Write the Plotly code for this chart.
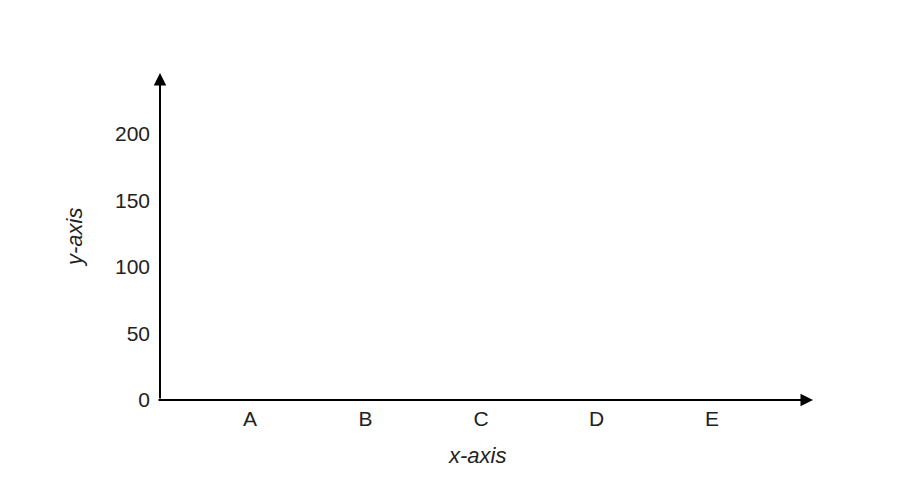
import plotly.graph_objects as go

categories = ["A", "B", "C", "D", "E"]
values = [None, None, None, None, None]
y_ticks = [0, 50, 100, 150, 200]

FONT = "Liberation Sans, Arial, sans-serif"
TXT = "#222222"

fig = go.Figure()
fig.add_trace(go.Scatter(x=categories, y=values, mode="markers", showlegend=False,
                         hoverinfo="skip"))

fig.update_layout(
    width=900, height=500,
    margin=dict(l=160, r=87, t=73, b=100),
    paper_bgcolor="white", plot_bgcolor="white",
    font=dict(family=FONT, size=21, color=TXT),
    xaxis=dict(type="category", categoryorder="array", categoryarray=categories,
               range=[-0.779, 4.874], showgrid=False, zeroline=False, showline=False,
               ticks="", ticklabelstandoff=4, tickfont=dict(size=21, color=TXT),
               fixedrange=True),
    yaxis=dict(range=[0, 245.9], tickvals=y_ticks, showgrid=False, zeroline=False,
               showline=False, ticks="", ticklabelstandoff=9,
               tickfont=dict(size=21, color=TXT), fixedrange=True),
)

arrow = dict(showarrow=True, arrowhead=2, arrowwidth=2, arrowsize=1.25,
             arrowcolor="black", text="", standoff=0, startstandoff=0)

# x-axis arrow
fig.add_annotation(xref="x domain", yref="y domain", x=1, y=0,
                   axref="x domain", ayref="y domain", ax=-0.0046, ay=0, **arrow)
# y-axis arrow
fig.add_annotation(xref="x domain", yref="y domain", x=0, y=1,
                   axref="x domain", ayref="y domain", ax=0, ay=0, **arrow)

fig.add_annotation(xref="x domain", yref="y domain", x=(477 - 160) / 653, y=-(455 - 400) / 327,
                   text="<i>x-axis</i>", showarrow=False, xanchor="center", yanchor="middle",
                   font=dict(size=22, color=TXT, family=FONT))
fig.add_annotation(xref="x domain", yref="y domain", x=-(160 - 75) / 653, y=(400 - 237) / 327,
                   text="<i>y-axis</i>", showarrow=False, xanchor="center", yanchor="middle",
                   textangle=-90, font=dict(size=22, color=TXT, family=FONT))

fig.write_html("out.html")
